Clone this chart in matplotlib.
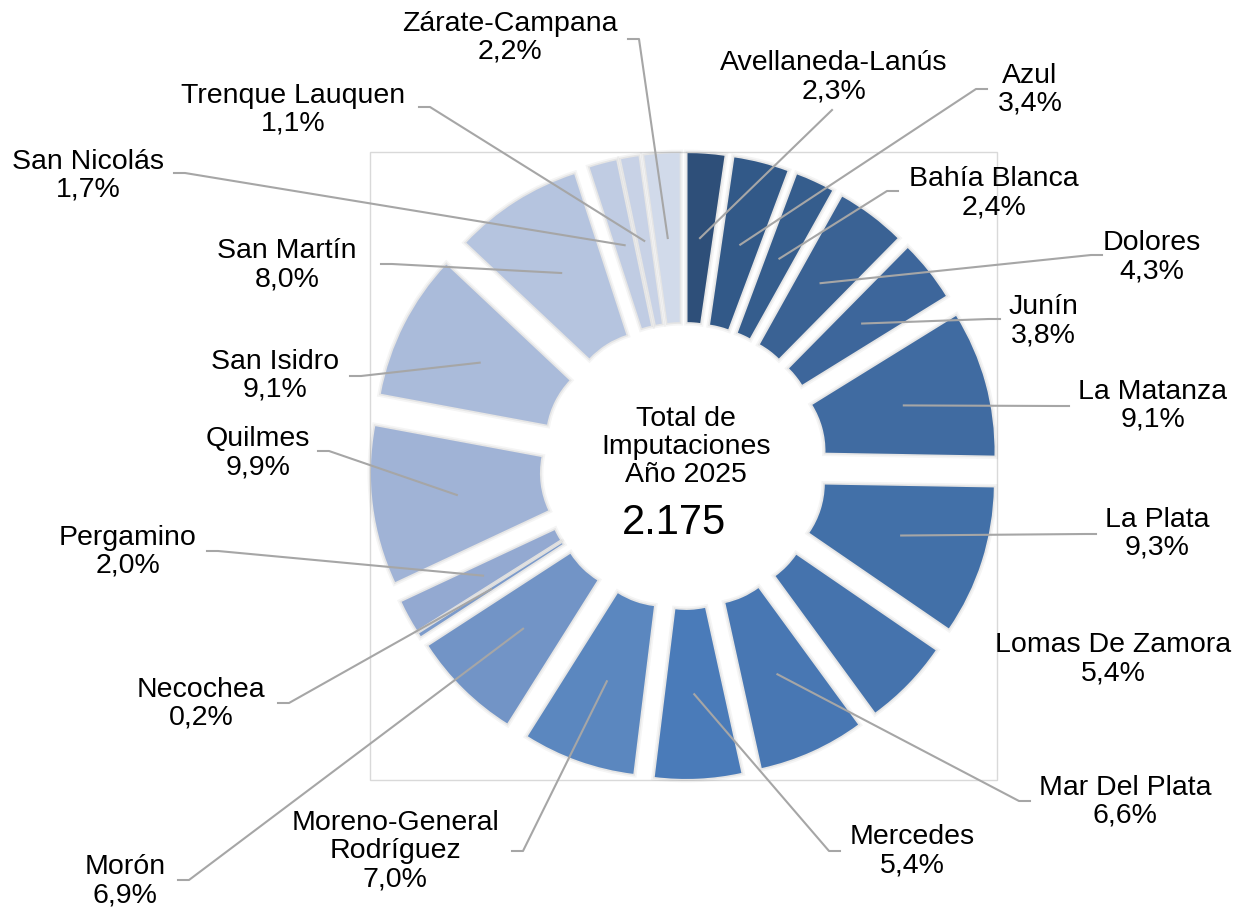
import numpy as np
import matplotlib
matplotlib.use('Agg')
import matplotlib.pyplot as plt
import matplotlib.patheffects as pe

plt.rcParams['font.family'] = ['Liberation Sans', 'DejaVu Sans']

# data
departamentos = ['Avellaneda-Lanús', 'Azul', 'Bahía Blanca', 'Dolores', 'Junín',
                 'La Matanza', 'La Plata', 'Lomas De Zamora', 'Mar Del Plata',
                 'Mercedes', 'Moreno-General\nRodríguez', 'Morón', 'Necochea',
                 'Pergamino', 'Quilmes', 'San Isidro', 'San Martín',
                 'San Nicolás', 'Trenque Lauquen', 'Zárate-Campana']
porcentajes = [2.3, 3.4, 2.4, 4.3, 3.8, 9.1, 9.3, 5.4, 6.6, 5.4, 7.0, 6.9, 0.2,
               2.0, 9.9, 9.1, 8.0, 1.7, 1.1, 2.2]
total = '2.175'
anio = '2025'

colores = ['#2e4f79', '#325988', '#355d8d', '#3a6294', '#3d669b', '#406ba1',
           '#4270a8', '#4573ad', '#4877b3', '#4a7bb9', '#5b87bf', '#7294c6',
           '#7c9bcb', '#93a9d1', '#a0b3d6', '#aabbda', '#b5c4df', '#c0cce3',
           '#c8d2e6', '#d1daea']

# layout (pixel coords, y measured from top)
W, H = 1242, 910
cx, cy = 683.5, 466
label_pos = [(834, 77), (1030, 90), (994, 193), (1152, 257), (1043, 321),
             (1153, 406), (1157, 534), (1113, 659), (1125, 802), (912, 851),
             (395, 851), (125, 881), (201, 704), (128, 552), (258, 453),
             (275, 376), (287, 265), (88, 176), (293, 110), (510, 38)]
attach = [(832, 110, 'B'), (987, 89, 'L'), (898, 191, 'L'), (1102, 255, 'L'),
          (1000, 319, 'L'), (1069, 406, 'L'), (1096, 534, 'L'), None,
          (1030, 801, 'L'), (840, 851, 'L'), (512, 851, 'R'), (178, 880, 'R'),
          (278, 703, 'R'), (207, 551, 'R'), (318, 451, 'R'), (350, 376, 'R'),
          (381, 264, 'R'), (174, 173, 'R'), (419, 107, 'R'), (628, 39, 'R')]

fig = plt.figure(figsize=(12.42, 9.10), dpi=100)
ax = fig.add_axes([0, 0, 1, 1])

R = 257
ancho = 169
expl = 56  # pie() offsets wedges in data units

# plot area border
ax.add_patch(plt.Rectangle((370, H - 780), 627, 628, fill=False,
                           edgecolor='#d9d9d9', linewidth=1, zorder=0))

wedges, _ = ax.pie(porcentajes, radius=R, center=(cx, H - cy),
                   explode=[expl] * len(porcentajes), startangle=90,
                   counterclock=False, colors=colores, labeldistance=None,
                   wedgeprops=dict(width=ancho, linewidth=0))
# soft shadow around each slice
for w in wedges:
    w.set_path_effects([pe.Stroke(linewidth=5, foreground='#000000', alpha=0.04),
                        pe.Stroke(linewidth=2.5, foreground='#000000', alpha=0.06),
                        pe.Normal()])

ax.set_xlim(0, W)
ax.set_ylim(0, H)
ax.set_aspect('auto')
ax.axis('off')

for i, w in enumerate(wedges):
    txt = f"{departamentos[i]}\n{porcentajes[i]:.1f}%".replace('.', ',')
    tx, ty = label_pos[i]
    ax.text(tx, H - ty, txt, ha='center', va='center', fontsize=20.5,
            linespacing=1.1, color='black')
    if attach[i] is None:
        continue
    mid = np.deg2rad((w.theta1 + w.theta2) / 2)
    rm = R - ancho / 2
    px = w.center[0] + rm * np.cos(mid)
    py = w.center[1] + rm * np.sin(mid)
    axx, ayy, side = attach[i]
    ayy = H - ayy
    if side == 'L':
        xs, ys = [px, axx - 11, axx], [py, ayy, ayy]
    elif side == 'R':
        xs, ys = [px, axx + 11, axx], [py, ayy, ayy]
    else:
        xs, ys = [px, axx], [py, ayy]
    ax.plot(xs, ys, color='#a6a6a6', linewidth=1.5, zorder=5)

ax.text(686, H - 447, f"Total de\nImputaciones\nAño {anio}", ha='center',
        va='center', fontsize=20.5, linespacing=1.1)
ax.text(674, H - 523, total, ha='center', va='center', fontsize=30)

fig.savefig('out.png', dpi=100)
